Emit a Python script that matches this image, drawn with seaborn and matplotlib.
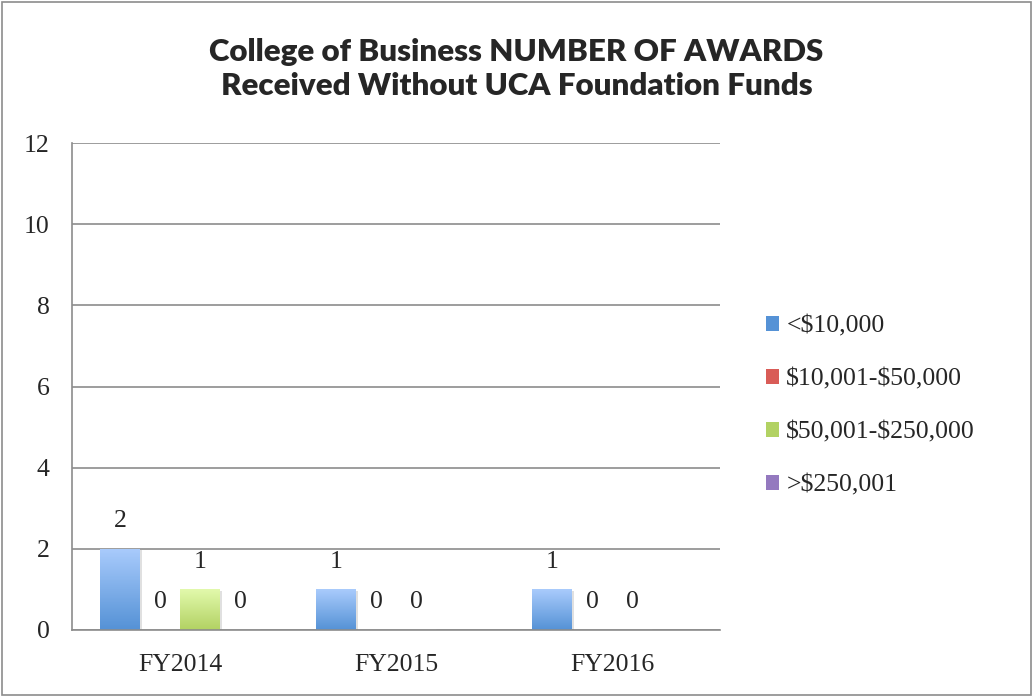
import numpy as np
import pandas as pd
import matplotlib
matplotlib.use("Agg")
import matplotlib.pyplot as plt
import seaborn as sns
from matplotlib.colors import LinearSegmentedColormap
from matplotlib.patches import Rectangle

years = ["FY2014", "FY2015", "FY2016"]
ranges = ["<$10,000", "$10,001-$50,000", "$50,001-$250,000", ">$250,001"]
under_10k = [2, 1, 1]
from_10k_50k = [0, 0, 0]
from_50k_250k = [1, 0, 0]
over_250k = [0, None, None]

# gradient colours (top, bottom) per series
grad = [("#a9cbfc", "#5592d6"), ("#fbabab", "#d95c57"),
        ("#e2f9ac", "#b2d263"), ("#d0bcec", "#9479bf")]

rows = []
for vals, r in zip([under_10k, from_10k_50k, from_50k_250k, over_250k], ranges):
    for y, v in zip(years, vals):
        rows.append({"year": y, "range": r, "count": v})
df = pd.DataFrame(rows)

sns.set_style("white")
plt.rcParams['font.family'] = ['Liberation Serif', 'DejaVu Serif']
plt.rcParams['text.parse_math'] = False

fig = plt.figure(figsize=(10.33, 6.97), dpi=100)
ax = fig.add_axes([72/1033, 1 - 630/697, 648/1033, 487/697])

palette = [g[1] for g in grad]
sns.barplot(data=df, x="year", y="count", hue="range", palette=palette,
            width=0.74, ax=ax, saturation=1, legend=True)

ax.set_ylim(0, 12)
ax.set_yticks(range(0, 13, 2))
ax.set_xlim(-0.5, 2.5)
ax.yaxis.grid(True, color="#8c8c8c", linewidth=1.2)
ax.set_axisbelow(True)
for s in ["top", "right"]:
    ax.spines[s].set_visible(False)
for s in ["left", "bottom"]:
    ax.spines[s].set_color("#8c8c8c")
    ax.spines[s].set_linewidth(1.2)
ax.tick_params(axis="y", length=0, labelsize=18.5, pad=16)
ax.tick_params(axis="x", length=0, labelsize=18.5, pad=17.5)
ax.set_xlabel("")
ax.set_ylabel("")

# gradient fill + value labels
for i, cont in enumerate(ax.containers):
    cmap = LinearSegmentedColormap.from_list("g%d" % i, [grad[i][1], grad[i][0]])
    labels = []
    for j, p in enumerate(cont.patches):
        v = df[(df["range"] == ranges[i])]["count"].iloc[j]
        labels.append("" if pd.isna(v) else "%d" % v)
        h = p.get_height()
        if h and h > 0:
            x0, w = p.get_x(), p.get_width()
            sh = Rectangle((x0 + 0.01, 0), w, h - 0.04, facecolor="#000000",
                           alpha=0.12, edgecolor="none", zorder=1.5)
            ax.add_patch(sh)
            im = ax.imshow(np.linspace(0, 1, 64).reshape(-1, 1), cmap=cmap,
                           extent=[x0, x0 + w, 0, h], aspect="auto",
                           origin="lower", zorder=2)
            im.set_clip_path(p)
            p.set_facecolor("none")
            p.set_edgecolor("none")
            p.set_zorder(2.1)
    ax.bar_label(cont, labels=labels, padding=12, fontsize=18.5)
ax.set_xlim(-0.5, 2.5)
ax.set_ylim(0, 12)

# legend
handles, _ = ax.get_legend_handles_labels()
for h, g in zip(handles, grad):
    h.set_facecolor(g[1])
    h.set_edgecolor("none")
ax.legend(handles, ranges, loc="center left", bbox_to_anchor=(1.035, 0.46),
          frameon=False, fontsize=18.5, handlelength=0.5, handleheight=0.5,
          handletextpad=0.3, labelspacing=1.2)

fig.text(0.5, 1 - 69/697, "College of Business NUMBER OF AWARDS\nReceived Without UCA Foundation Funds",
         ha="center", va="center", fontsize=22.5, fontweight="heavy",
         family=["Lato", "DejaVu Sans"], linespacing=1.25)

fig.patches.append(Rectangle((2/1033, 2/697), 1 - 4/1033, 1 - 4/697,
                             transform=fig.transFigure, fill=False,
                             edgecolor="#8c8c8c", linewidth=1.2))

fig.savefig("out.png", dpi=100)
